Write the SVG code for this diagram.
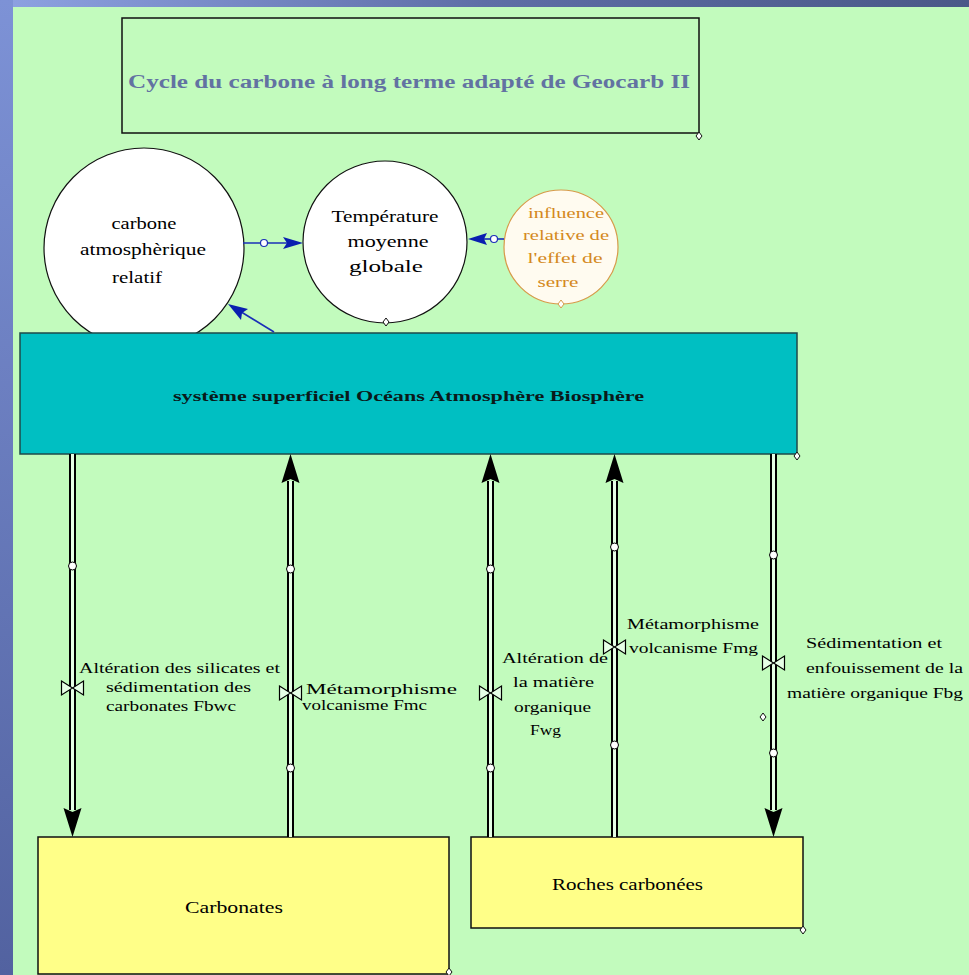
<svg xmlns="http://www.w3.org/2000/svg" width="969" height="975" viewBox="0 0 969 975">
<style>
text{font-family:"Liberation Serif","Times New Roman",serif;fill:#000;}
.lbl{font-size:15px;}
.circ{fill:#fff;stroke:#111;stroke-width:1.2;}
.dia{fill:#fff;stroke:#111;stroke-width:1;}
.pipeO{stroke:#000;stroke-width:7;}
.pipeI{stroke:#e6ffe6;stroke-width:3;}
.knot{fill:#fff;stroke:#000;stroke-width:1;}
.valve{fill:#e6ffe6;stroke:#000;stroke-width:1.2;}
.blue{stroke:#1a2fb8;stroke-width:1.6;fill:none;}
.bhead{fill:#0a1fb0;}
.ahead{fill:#000;}
</style>
<defs>
<linearGradient id="gTop" x1="0" y1="0" x2="1" y2="0">
<stop offset="0" stop-color="#8ea2e2"/>
<stop offset="0.5" stop-color="#5e6ea6"/>
<stop offset="1" stop-color="#4a5888"/>
</linearGradient>
<linearGradient id="gLeft" x1="0" y1="0" x2="0" y2="1">
<stop offset="0" stop-color="#7d92d6"/>
<stop offset="1" stop-color="#5262a0"/>
</linearGradient>
<path id="valveShape" d="M-11,-7 L11,7 L11,-7 L-11,7 Z"/>
<path id="arrowUp" d="M0,0 L9,29 L0,25 L-9,29 Z"/>
<path id="dmd" d="M0,-4 L3,0 L0,4 L-3,0 Z"/>
</defs>

<rect x="0" y="0" width="969" height="975" fill="#c2fbbd"/>
<rect x="0" y="0" width="969" height="7" fill="url(#gTop)"/>
<rect x="0" y="0" width="13" height="975" fill="url(#gLeft)"/>

<g id="title">
<rect x="122" y="18" width="577" height="115" fill="#c2fbbd" stroke="#111" stroke-width="1.5"/>
<text x="128" y="88" font-size="18" font-weight="bold" style="fill:#6272a2" textLength="562" lengthAdjust="spacingAndGlyphs">Cycle du carbone à long terme adapté de Geocarb II</text>
<use href="#dmd" x="699" y="136" class="dia"/>
</g>

<g id="carbone-atmospherique">
<circle cx="144" cy="248" r="100" class="circ"/>
<text x="144" y="229" font-size="17" text-anchor="middle" textLength="65" lengthAdjust="spacingAndGlyphs">carbone</text>
<text x="143" y="255" font-size="17" text-anchor="middle" textLength="126" lengthAdjust="spacingAndGlyphs">atmosphèrique</text>
<text x="137" y="283" font-size="17" text-anchor="middle" textLength="50" lengthAdjust="spacingAndGlyphs">relatif</text>
<use href="#dmd" x="144" y="348" class="dia"/>
</g>

<g id="temperature">
<ellipse cx="385" cy="242" rx="82" ry="81" class="circ"/>
<text x="385" y="222" font-size="17" text-anchor="middle" textLength="107" lengthAdjust="spacingAndGlyphs">Température</text>
<text x="388" y="247" font-size="17" text-anchor="middle" textLength="81" lengthAdjust="spacingAndGlyphs">moyenne</text>
<text x="386" y="272" font-size="17" text-anchor="middle" textLength="74" lengthAdjust="spacingAndGlyphs">globale</text>
<use href="#dmd" x="386" y="322" class="dia"/>
</g>

<g id="effet-de-serre">
<circle cx="561" cy="247" r="57" fill="#fffbf0" stroke="#d89a4a" stroke-width="1.2"/>
<text x="566" y="218" font-size="15" text-anchor="middle" style="fill:#d48820" textLength="76" lengthAdjust="spacingAndGlyphs">influence</text>
<text x="566" y="240" font-size="15" text-anchor="middle" style="fill:#d48820" textLength="86" lengthAdjust="spacingAndGlyphs">relative de</text>
<text x="565" y="263" font-size="15" text-anchor="middle" style="fill:#d48820" textLength="75" lengthAdjust="spacingAndGlyphs">l'effet de</text>
<text x="558" y="287" font-size="15" text-anchor="middle" style="fill:#d48820" textLength="41" lengthAdjust="spacingAndGlyphs">serre</text>
<use href="#dmd" x="561" y="304" fill="#fff" stroke="#d89a4a" stroke-width="1"/>
</g>

<g id="systeme-superficiel">
<rect x="20" y="333" width="777" height="121" fill="#00bfc2" stroke="#1e4a4a" stroke-width="1.5"/>
<text x="173" y="401" font-size="15" font-weight="bold" textLength="471" lengthAdjust="spacingAndGlyphs" style="fill:#0a1a1a">système superficiel Océans Atmosphère Biosphère</text>
<use href="#dmd" x="797" y="456" class="dia"/>
</g>

<g id="carbonates">
<rect x="38" y="837" width="411" height="137" fill="#ffff88" stroke="#111" stroke-width="1.5"/>
<text x="185" y="913" font-size="17" textLength="98" lengthAdjust="spacingAndGlyphs">Carbonates</text>
<use href="#dmd" x="449" y="972" class="dia"/>
</g>

<g id="roches-carbonees">
<rect x="471" y="837" width="332" height="91" fill="#ffff88" stroke="#111" stroke-width="1.5"/>
<text x="552" y="890" font-size="17" textLength="151" lengthAdjust="spacingAndGlyphs">Roches carbonées</text>
<use href="#dmd" x="803" y="930" class="dia"/>
</g>

<g id="connectors">
<line x1="243" y1="243" x2="292" y2="243" class="blue"/>
<circle cx="264" cy="243" r="3.5" fill="#fff" stroke="#1a2fb8" stroke-width="1.2"/>
<path d="M303,243 L283,237 L287,243 L283,249 Z" class="bhead"/>
<line x1="504" y1="239" x2="478" y2="239" class="blue"/>
<circle cx="494" cy="239" r="3.5" fill="#fff" stroke="#1a2fb8" stroke-width="1.2"/>
<path d="M468,239 L487,233 L484,239 L487,245 Z" class="bhead"/>
<line x1="274" y1="332" x2="238" y2="310" class="blue"/>
<path d="M228,304 L248,309 L242,313 L241,320 Z" class="bhead"/>

<g id="flow-fbwc">
<line x1="72.5" y1="454" x2="72.5" y2="810" class="pipeO"/>
<line x1="72.5" y1="454" x2="72.5" y2="810" class="pipeI"/>
<use href="#arrowUp" transform="translate(72.5,837) rotate(180)" class="ahead"/>
<circle cx="72.5" cy="566" r="4" class="knot"/>
<use href="#valveShape" x="72.5" y="688" class="valve"/>
<text x="79" y="673" class="lbl" textLength="201" lengthAdjust="spacingAndGlyphs">Altération des silicates et</text>
<text x="106" y="692" class="lbl" textLength="145" lengthAdjust="spacingAndGlyphs">sédimentation des</text>
<text x="106" y="711" class="lbl" textLength="130" lengthAdjust="spacingAndGlyphs">carbonates Fbwc</text>
</g>

<g id="flow-fmc">
<line x1="290.5" y1="481" x2="290.5" y2="837" class="pipeO"/>
<line x1="290.5" y1="481" x2="290.5" y2="837" class="pipeI"/>
<use href="#arrowUp" x="290.5" y="454" class="ahead"/>
<circle cx="290.5" cy="569" r="4" class="knot"/>
<circle cx="290.5" cy="768" r="4" class="knot"/>
<use href="#valveShape" x="290.5" y="693" class="valve"/>
<text x="306" y="694" font-size="14" textLength="151" lengthAdjust="spacingAndGlyphs">Métamorphisme</text>
<text x="302" y="710" font-size="14" textLength="125" lengthAdjust="spacingAndGlyphs">volcanisme Fmc</text>
</g>

<g id="flow-fwg">
<line x1="490.5" y1="481" x2="490.5" y2="837" class="pipeO"/>
<line x1="490.5" y1="481" x2="490.5" y2="837" class="pipeI"/>
<use href="#arrowUp" x="490.5" y="454" class="ahead"/>
<circle cx="490.5" cy="569" r="4" class="knot"/>
<circle cx="490.5" cy="768" r="4" class="knot"/>
<use href="#valveShape" x="490.5" y="693" class="valve"/>
<text x="502" y="663" class="lbl" textLength="106" lengthAdjust="spacingAndGlyphs">Altération de</text>
<text x="513" y="687" class="lbl" textLength="81" lengthAdjust="spacingAndGlyphs">la matière</text>
<text x="514" y="712" class="lbl" textLength="77" lengthAdjust="spacingAndGlyphs">organique</text>
<text x="530" y="735" class="lbl" textLength="31" lengthAdjust="spacingAndGlyphs">Fwg</text>
</g>

<g id="flow-fmg">
<line x1="614.5" y1="481" x2="614.5" y2="837" class="pipeO"/>
<line x1="614.5" y1="481" x2="614.5" y2="837" class="pipeI"/>
<use href="#arrowUp" x="614.5" y="454" class="ahead"/>
<circle cx="614.5" cy="547" r="4" class="knot"/>
<circle cx="614.5" cy="745" r="4" class="knot"/>
<use href="#valveShape" x="614.5" y="647" class="valve"/>
<text x="627" y="629" class="lbl" textLength="132" lengthAdjust="spacingAndGlyphs">Métamorphisme</text>
<text x="629" y="653" class="lbl" textLength="129" lengthAdjust="spacingAndGlyphs">volcanisme Fmg</text>
</g>

<g id="flow-fbg">
<line x1="773.5" y1="454" x2="773.5" y2="810" class="pipeO"/>
<line x1="773.5" y1="454" x2="773.5" y2="810" class="pipeI"/>
<use href="#arrowUp" transform="translate(773.5,837) rotate(180)" class="ahead"/>
<circle cx="773.5" cy="555" r="4" class="knot"/>
<circle cx="773.5" cy="753" r="4" class="knot"/>
<use href="#valveShape" x="773.5" y="663" class="valve"/>
<use href="#dmd" x="763" y="717" class="dia"/>
<text x="806" y="648" class="lbl" textLength="136" lengthAdjust="spacingAndGlyphs">Sédimentation et</text>
<text x="806" y="673" class="lbl" textLength="157" lengthAdjust="spacingAndGlyphs">enfouissement de la</text>
<text x="787" y="698" class="lbl" textLength="176" lengthAdjust="spacingAndGlyphs">matière organique Fbg</text>
</g>
</g>
</svg>
